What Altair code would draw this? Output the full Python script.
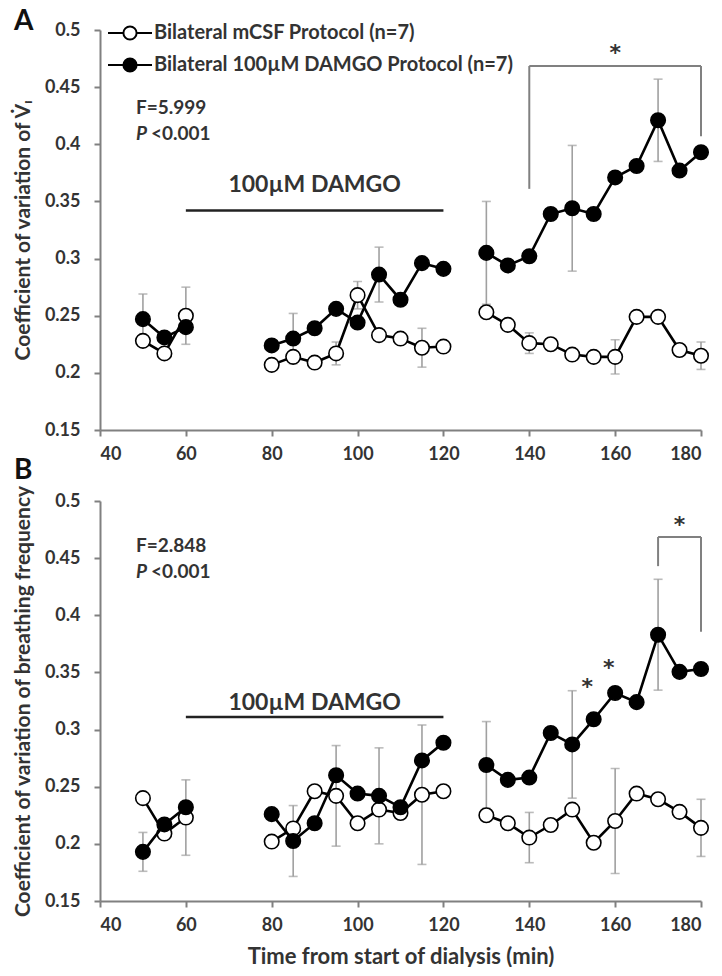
import altair as alt
import pandas as pd

# ---------------- data ----------------
times = [50, 55, 60, 80, 85, 90, 95, 100, 105, 110, 115, 120,
         130, 135, 140, 145, 150, 155, 160, 165, 170, 175, 180]
segments = [1, 1, 1, 2, 2, 2, 2, 2, 2, 2, 2, 2,
            3, 3, 3, 3, 3, 3, 3, 3, 3, 3, 3]
series_names = ["Bilateral mCSF Protocol (n=7)", "Bilateral 100µM DAMGO Protocol (n=7)"]

a_mcsf = [0.228, 0.217, 0.250, 0.207, 0.214, 0.209, 0.217, 0.268, 0.233, 0.230, 0.222, 0.223,
          0.253, 0.242, 0.226, 0.225, 0.216, 0.214, 0.214, 0.249, 0.249, 0.220, 0.215]
a_damgo = [0.247, 0.231, 0.240, 0.224, 0.230, 0.239, 0.256, 0.244, 0.286, 0.264, 0.296, 0.291,
           0.305, 0.294, 0.302, 0.339, 0.344, 0.339, 0.371, 0.381, 0.421, 0.377, 0.393]
b_mcsf = [0.240, 0.209, 0.223, 0.202, 0.2135, 0.246, 0.242, 0.218, 0.230, 0.227, 0.243, 0.246,
          0.225, 0.218, 0.2055, 0.2165, 0.230, 0.201, 0.220, 0.244, 0.239, 0.228, 0.214]
b_damgo = [0.193, 0.217, 0.232, 0.226, 0.2025, 0.218, 0.260, 0.244, 0.242, 0.232, 0.273, 0.2885,
           0.269, 0.256, 0.258, 0.297, 0.287, 0.309, 0.332, 0.324, 0.383, 0.3505, 0.353]

a_err_mcsf_t = [60, 95, 100, 115, 140, 160, 180]
a_err_mcsf_sd = [0.025, 0.010, 0.012, 0.017, 0.009, 0.015, 0.012]
a_err_damgo_t = [50, 85, 105, 130, 150, 170]
a_err_damgo_sd = [0.022, 0.022, 0.024, 0.045, 0.055, 0.036]
b_err_mcsf_t = [60, 95, 115, 140, 160, 180]
b_err_mcsf_sd = [0.033, 0.044, 0.061, 0.022, 0.046, 0.025]
b_err_damgo_t = [50, 85, 105, 130, 150, 170]
b_err_damgo_sd = [0.017, 0.031, 0.042, 0.038, 0.047, 0.0485]

x_ticks = [40, 60, 80, 100, 120, 140, 160, 180]
y_ticks = [0.15, 0.2, 0.25, 0.3, 0.35, 0.4, 0.45, 0.5]

damgo_label = "100µM DAMGO"
damgo_span = [60, 120]
a_damgo_level, a_damgo_text_y = 0.342, 0.364
b_damgo_level, b_damgo_text_y = 0.311, 0.323

# brackets: [t_left, t_right, top, left_bottom, right_bottom]
a_bracket = [140, 180, 0.4685, 0.361, 0.407]
b_bracket = [170, 180, 0.4685, 0.443, 0.3855]
a_stars_t, a_stars_v = [160], [0.484]
b_stars_t, b_stars_v = [175, 153.5, 158.5], [0.483, 0.342, 0.358]

a_stats = ["F=5.999", "<0.001"]
b_stats = ["F=2.848", "<0.001"]

# ---------------- style ----------------
FONT = "Lato"
TXT = "#333333"
AXC = "#808080"
ERRC = "#a0a0a0"
W, H = 601, 400

legend_path = "M-2,0L-0.6,0M0.6,0L2,0M0.6,0A0.6,0.6,0,1,1,-0.6,0A0.6,0.6,0,1,1,0.6,0Z"


def xenc(field, title):
    return alt.X(f"{field}:Q", scale=alt.Scale(domain=[40, 180], nice=False, zero=False),
                 axis=alt.Axis(values=x_ticks, format="d", title=title, labelPadding=9,
                               titlePadding=12, titleFontSize=22))


def yenc(field, title):
    return alt.Y(f"{field}:Q", scale=alt.Scale(domain=[0.15, 0.5], nice=False, zero=False),
                 axis=alt.Axis(values=y_ticks, format=".2~f", title=title, labelPadding=14,
                               titlePadding=11, titleFontSize=21))


def panel(mcsf, damgo, em_t, em_sd, ed_t, ed_sd, letter, letter_y, stats, stats_y,
          dlevel, dtext_y, bracket, stars_t, stars_v, ytitle, xtitle, show_legend):
    df = pd.DataFrame({
        "t": times + times,
        "seg": segments + segments,
        "series": [series_names[0]] * len(times) + [series_names[1]] * len(times),
        "v": mcsf + damgo,
    })
    lookup_m = dict(zip(times, mcsf))
    lookup_d = dict(zip(times, damgo))
    err = pd.DataFrame({
        "t": em_t + ed_t,
        "c": [lookup_m[t] for t in em_t] + [lookup_d[t] for t in ed_t],
        "sd": em_sd + ed_sd,
    })
    err["lo"] = err["c"] - err["sd"]
    err["hi"] = err["c"] + err["sd"]

    if show_legend:
        leg = alt.Legend(title=None, orient="none", legendX=18, legendY=-9,
                         symbolType=legend_path, symbolSize=484, symbolStrokeColor="black",
                         symbolStrokeWidth=2, symbolOffset=0, labelFont=FONT,
                         labelFontSize=20, labelFontWeight="bold", labelColor=TXT,
                         labelOffset=12, labelLimit=0, rowPadding=9, padding=0)
    else:
        leg = None
    fill = alt.Fill("series:N", scale=alt.Scale(domain=series_names, range=["white", "black"]),
                    legend=leg)

    base = alt.Chart(df)
    e_rule = alt.Chart(err).mark_rule(color=ERRC, strokeWidth=1.6).encode(
        x=xenc("t", xtitle), y=yenc("lo", ytitle), y2="hi:Q")
    e_caps = alt.Chart(err).transform_fold(["lo", "hi"], as_=["k", "val"]).mark_tick(
        color=ERRC, orient="horizontal", size=9, thickness=1.6).encode(
        x=xenc("t", xtitle), y=yenc("val", ytitle))

    layers = [e_rule, e_caps]
    for name in series_names:
        sub = base.transform_filter(alt.datum.series == name)
        layers.append(sub.mark_line(color="black", strokeWidth=2.6).encode(
            x=xenc("t", xtitle), y=yenc("v", ytitle), detail="seg:N"))
        layers.append(sub.mark_point(filled=True, size=210, stroke="black", strokeWidth=1.6,
                                     opacity=1).encode(
            x=xenc("t", xtitle), y=yenc("v", ytitle), fill=fill))

    # DAMGO bar
    dbar = pd.DataFrame({"t0": [damgo_span[0]], "t1": [damgo_span[1]], "v": [dlevel],
                         "tm": [sum(damgo_span) / 2], "vt": [dtext_y], "lab": [damgo_label]})
    layers.append(alt.Chart(dbar).mark_rule(color="#222222", strokeWidth=2.6).encode(
        x=xenc("t0", xtitle), x2="t1:Q", y=yenc("v", ytitle)))
    layers.append(alt.Chart(dbar).mark_text(font=FONT, fontSize=23, fontWeight="bold",
                                            color=TXT, baseline="middle").encode(
        x=xenc("tm", xtitle), y=yenc("vt", ytitle), text="lab:N"))

    # significance bracket
    br_h = pd.DataFrame({"t0": [bracket[0]], "t1": [bracket[1]], "v": [bracket[2]]})
    br_v = pd.DataFrame({"t": [bracket[0], bracket[1]], "v0": [bracket[2], bracket[2]],
                         "v1": [bracket[3], bracket[4]]})
    layers.append(alt.Chart(br_h).mark_rule(color=AXC, strokeWidth=2).encode(
        x=xenc("t0", xtitle), x2="t1:Q", y=yenc("v", ytitle)))
    layers.append(alt.Chart(br_v).mark_rule(color=AXC, strokeWidth=2).encode(
        x=xenc("t", xtitle), y=yenc("v0", ytitle), y2="v1:Q"))
    stars = pd.DataFrame({"t": stars_t, "v": stars_v, "s": ["*"] * len(stars_t)})
    layers.append(alt.Chart(stars).mark_text(font="DejaVu Sans", fontSize=22, fontWeight="bold",
                                             color=TXT, baseline="middle", dy=5).encode(
        x=xenc("t", xtitle), y=yenc("v", ytitle), text="s:N"))

    # stats text
    st = pd.DataFrame({"f": [stats[0]], "p": ["P"], "q": [stats[1]]})
    layers.append(alt.Chart(st).mark_text(font=FONT, fontSize=19, fontWeight="bold", color=TXT,
                                          align="left", baseline="middle").encode(
        x=alt.value(36), y=alt.value(stats_y[0]), text="f:N"))
    layers.append(alt.Chart(st).mark_text(font=FONT, fontSize=19, fontWeight="bold",
                                          fontStyle="italic", color=TXT, align="left",
                                          baseline="middle").encode(
        x=alt.value(36), y=alt.value(stats_y[1]), text="p:N"))
    layers.append(alt.Chart(st).mark_text(font=FONT, fontSize=19, fontWeight="bold", color=TXT,
                                          align="left", baseline="middle").encode(
        x=alt.value(51), y=alt.value(stats_y[1]), text="q:N"))

    # panel letter
    lt = pd.DataFrame({"l": [letter]})
    layers.append(alt.Chart(lt).mark_text(font=FONT, fontSize=28, fontWeight="bold",
                                          color="#111111", align="left",
                                          baseline="alphabetic").encode(
        x=alt.value(-86), y=alt.value(letter_y), text="l:N"))

    return alt.layer(*layers).properties(width=W, height=H)


top = panel(a_mcsf, a_damgo, a_err_mcsf_t, a_err_mcsf_sd, a_err_damgo_t, a_err_damgo_sd,
            "A", 0, a_stats, [78, 104], a_damgo_level, a_damgo_text_y, a_bracket,
            a_stars_t, a_stars_v, "Coefficient of variation of V̇ᵢ", None, True)
bottom = panel(b_mcsf, b_damgo, b_err_mcsf_t, b_err_mcsf_sd, b_err_damgo_t, b_err_damgo_sd,
               "B", -22, b_stats, [45, 71], b_damgo_level, b_damgo_text_y, b_bracket,
               b_stars_t, b_stars_v, "Coefficient of variation of breathing frequency",
               "Time from start of dialysis (min)", False)

chart = alt.vconcat(top, bottom, spacing=71, bounds="flush",
                    padding={"left": 4, "top": 0, "right": 0, "bottom": 0}).resolve_scale(
    fill="independent").configure_view(stroke=None).configure_axis(
    grid=False, domainColor=AXC, domainWidth=2, tickColor=AXC, tickWidth=2, tickSize=6,
    labelFont=FONT, labelFontSize=18, labelFontWeight="bold", labelColor=TXT,
    titleFont=FONT, titleFontWeight="bold", titleColor=TXT)

chart.save("out.html", embed_options={"renderer": "svg", "actions": False})
